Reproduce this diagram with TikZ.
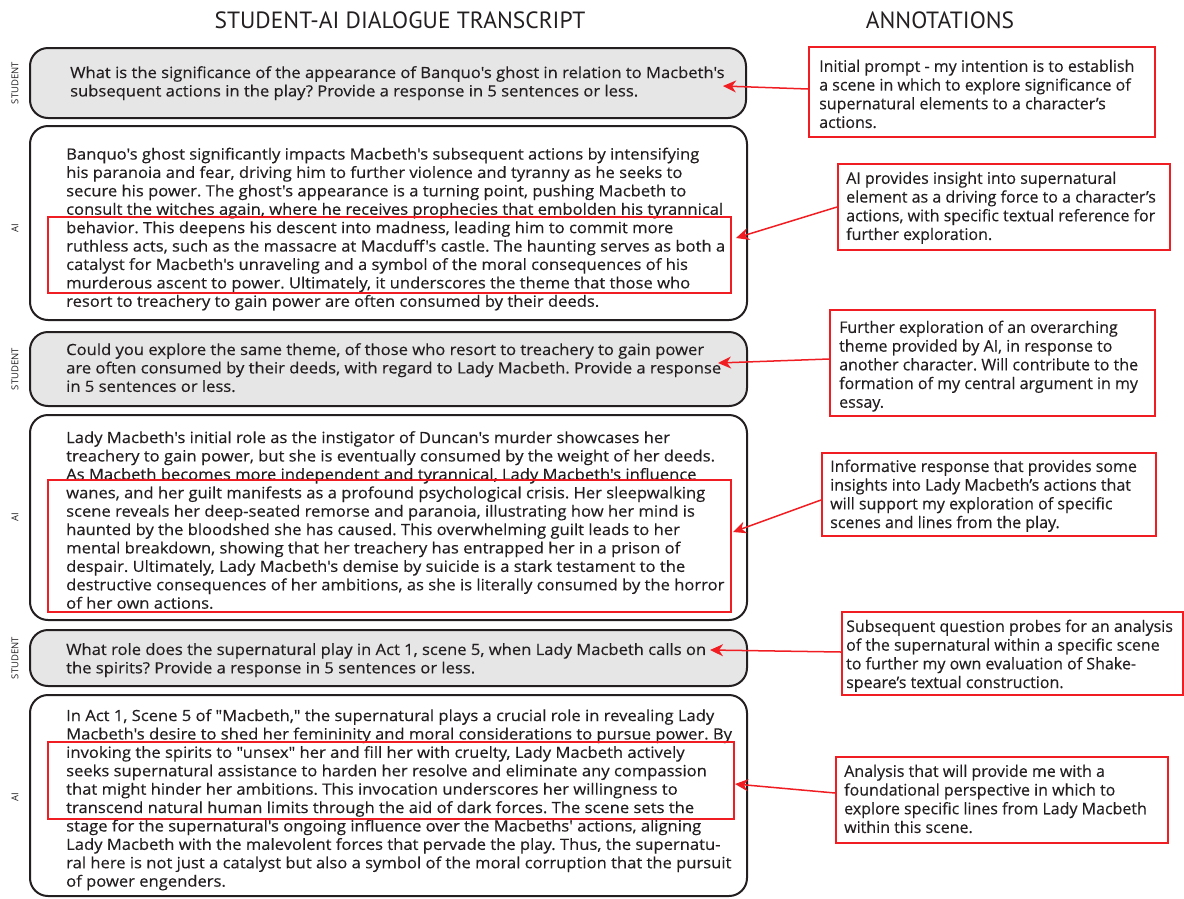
\documentclass[tikz,border=0pt]{standalone}
\usepackage{fontspec}
\setmainfont{Open Sans}
\newfontfamily\dlgfont{Open Sans}[Ligatures=TeXOff, FakeStretch=1.07, FakeBold=0.3]
\newfontfamily\notefont{Open Sans}[FakeBold=0.3]
\newfontfamily\headfont{PT Sans}
\usepackage{tikz}
\usetikzlibrary{arrows.meta}
\frenchspacing
\definecolor{stugray}{HTML}{E6E6E6}
\definecolor{ink}{HTML}{231F20}
\definecolor{markred}{HTML}{F01E23}
\tikzstyle{turn}=[draw=ink, line width=2pt, rounded corners=18pt, inner sep=0pt]
\tikzstyle{stu}=[turn, fill=stugray]
\tikzstyle{rep}=[turn, fill=white]
\tikzstyle{body}=[anchor=north west, inner sep=0pt, align=left, text=ink, font=\dlgfont\fontsize{15.5}{18.4}\selectfont]
\tikzstyle{note}=[draw=markred, line width=2pt, inner sep=0pt]
\tikzstyle{notetext}=[anchor=north west, inner sep=0pt, align=left, text=ink, font=\notefont\fontsize{16}{18.7}\selectfont]
\tikzstyle{hilite}=[draw=markred, line width=1.5pt, inner sep=0pt]
\tikzstyle{who}=[rotate=90, text=ink, font=\fontsize{9.5}{12}\selectfont]
\tikzstyle{head}=[text=ink, font=\headfont\fontsize{23.5}{28}\selectfont]
\tikzstyle{ptr}=[draw=markred, line width=1.5pt, -{Stealth[length=13pt, width=12pt, inset=4pt]}]

\begin{document}
\begin{tikzpicture}[x=1pt, y=-1pt]
\useasboundingbox (0,0) rectangle (1184,898);
\node[head] (lefthead) at (400,20) {STUDENT-AI DIALOGUE TRANSCRIPT};
\node[head] (righthead) at (940,20) {ANNOTATIONS};
%
\node[stu, minimum width=716pt, minimum height=70pt] (q1) at (388,83) {};
\node[rep, minimum width=717pt, minimum height=194pt] (r1) at (388.5,223) {};
\node[stu, minimum width=717pt, minimum height=74pt] (q2) at (388.5,369) {};
\node[rep, minimum width=717pt, minimum height=205pt] (r2) at (388.5,517.5) {};
\node[stu, minimum width=717pt, minimum height=56pt] (q3) at (388.5,658) {};
\node[rep, minimum width=717pt, minimum height=201pt] (r3) at (388.5,795.5) {};
%
\node[body] (q1txt) at (70,66) {What is the significance of the appearance of Banquo's ghost in relation to Macbeth's\\subsequent actions in the play? Provide a response in 5 sentences or less.};
\node[body] (r1txt) at (66,147.5) {Banquo's ghost significantly impacts Macbeth's subsequent actions by intensifying\\his paranoia and fear, driving him to further violence and tyranny as he seeks to\\secure his power. The ghost's appearance is a turning point, pushing Macbeth to\\consult the witches again, where he receives prophecies that embolden his tyrannical\\behavior. This deepens his descent into madness, leading him to commit more\\ruthless acts, such as the massacre at Macduff's castle. The haunting serves as both a\\catalyst for Macbeth's unraveling and a symbol of the moral consequences of his\\murderous ascent to power. Ultimately, it underscores the theme that those who\\resort to treachery to gain power are often consumed by their deeds.};
\node[body] (q2txt) at (66,343) {Could you explore the same theme, of those who resort to treachery to gain power\\are often consumed by their deeds, with regard to Lady Macbeth. Provide a response\\in 5 sentences or less.};
\node[body] (r2txt) at (66,431) {Lady Macbeth's initial role as the instigator of Duncan's murder showcases her\\treachery to gain power, but she is eventually consumed by the weight of her deeds.\\As Macbeth becomes more independent and tyrannical, Lady Macbeth's influence\\wanes, and her guilt manifests as a profound psychological crisis. Her sleepwalking\\scene reveals her deep-seated remorse and paranoia, illustrating how her mind is\\haunted by the bloodshed she has caused. This overwhelming guilt leads to her\\mental breakdown, showing that her treachery has entrapped her in a prison of\\despair. Ultimately, Lady Macbeth's demise by suicide is a stark testament to the\\destructive consequences of her ambitions, as she is literally consumed by the horror\\of her own actions.};
\node[body] (q3txt) at (66,643) {What role does the supernatural play in Act 1, scene 5, when Lady Macbeth calls on\\the spirits? Provide a response in 5 sentences or less.};
\node[body] (r3txt) at (66,709) {In Act 1, Scene 5 of "Macbeth," the supernatural plays a crucial role in revealing Lady\\Macbeth's desire to shed her femininity and moral considerations to pursue power. By\\invoking the spirits to "unsex" her and fill her with cruelty, Lady Macbeth actively\\seeks supernatural assistance to harden her resolve and eliminate any compassion\\that might hinder her ambitions. This invocation underscores her willingness to\\transcend natural human limits through the aid of dark forces. The scene sets the\\stage for the supernatural's ongoing influence over the Macbeths' actions, aligning\\Lady Macbeth with the malevolent forces that pervade the play. Thus, the supernatu-\\ral here is not just a catalyst but also a symbol of the moral corruption that the pursuit\\of power engenders.};
%
\node[who] (w1) at (15,83) {STUDENT};
\node[who] (w2) at (15,228) {AI};
\node[who] (w3) at (15,369) {STUDENT};
\node[who] (w4) at (15,517) {AI};
\node[who] (w5) at (15,658) {STUDENT};
\node[who] (w6) at (15,797) {AI};
%
\node[hilite, minimum width=683pt, minimum height=76pt] (h1) at (389.5,255) {};
\node[hilite, minimum width=683pt, minimum height=132pt] (h2) at (389.5,546) {};
\node[hilite, minimum width=686pt, minimum height=77pt] (h3) at (391,780.5) {};
%
\node[note, minimum width=346pt, minimum height=90pt] (n1) at (982,92) {};
\node[note, minimum width=332pt, minimum height=86pt] (n2) at (1004,207) {};
\node[note, minimum width=325pt, minimum height=106pt] (n3) at (992.5,363) {};
\node[note, minimum width=334pt, minimum height=83pt] (n4) at (989,494.5) {};
\node[note, minimum width=341pt, minimum height=83pt] (n5) at (1012.5,653.5) {};
\node[note, minimum width=332pt, minimum height=86pt] (n6) at (1002,800) {};
%
\node[notetext] (n1txt) at (819,59.5) {Initial prompt - my intention is to establish\\a scene in which to explore significance of\\supernatural elements to a character’s\\actions.};
\node[notetext] (n2txt) at (846,171.5) {AI provides insight into supernatural\\element as a driving force to a character’s\\actions, with specific textual reference for\\further exploration.};
\node[notetext] (n3txt) at (839,320.5) {Further exploration of an overarching\\theme provided by AI, in response to\\another character. Will contribute to the\\formation of my central argument in my\\essay.};
\node[notetext] (n4txt) at (830,459.5) {Informative response that provides some\\insights into Lady Macbeth’s actions that\\will support my exploration of specific\\scenes and lines from the play.};
\node[notetext] (n5txt) at (846,619.5) {Subsequent question probes for an analysis\\of the supernatural within a specific scene\\to further my own evaluation of Shake-\\speare’s textual construction.};
\node[notetext] (n6txt) at (844,764.5) {Analysis that will provide me with a\\foundational perspective in which to\\explore specific lines from Lady Macbeth\\within this scene.};
%
\coordinate (t1) at (723,86);
\coordinate (t2) at (736,238);
\coordinate (t3) at (718,363);
\coordinate (t4) at (733,532);
\coordinate (t5) at (710,650);
\coordinate (t6) at (735,784);
\draw[ptr] ([yshift=3pt]n1.west) -- (t1);
\draw[ptr] (n2.west) -- (t2);
\draw[ptr] ([yshift=4pt]n3.west) -- (t3);
\draw[ptr] ([yshift=-5.5pt]n4.west) -- (t4);
\draw[ptr] ([yshift=1.5pt]n5.west) -- (t5);
\draw[ptr] ([yshift=7pt]n6.west) -- (t6);
\end{tikzpicture}
\end{document}
